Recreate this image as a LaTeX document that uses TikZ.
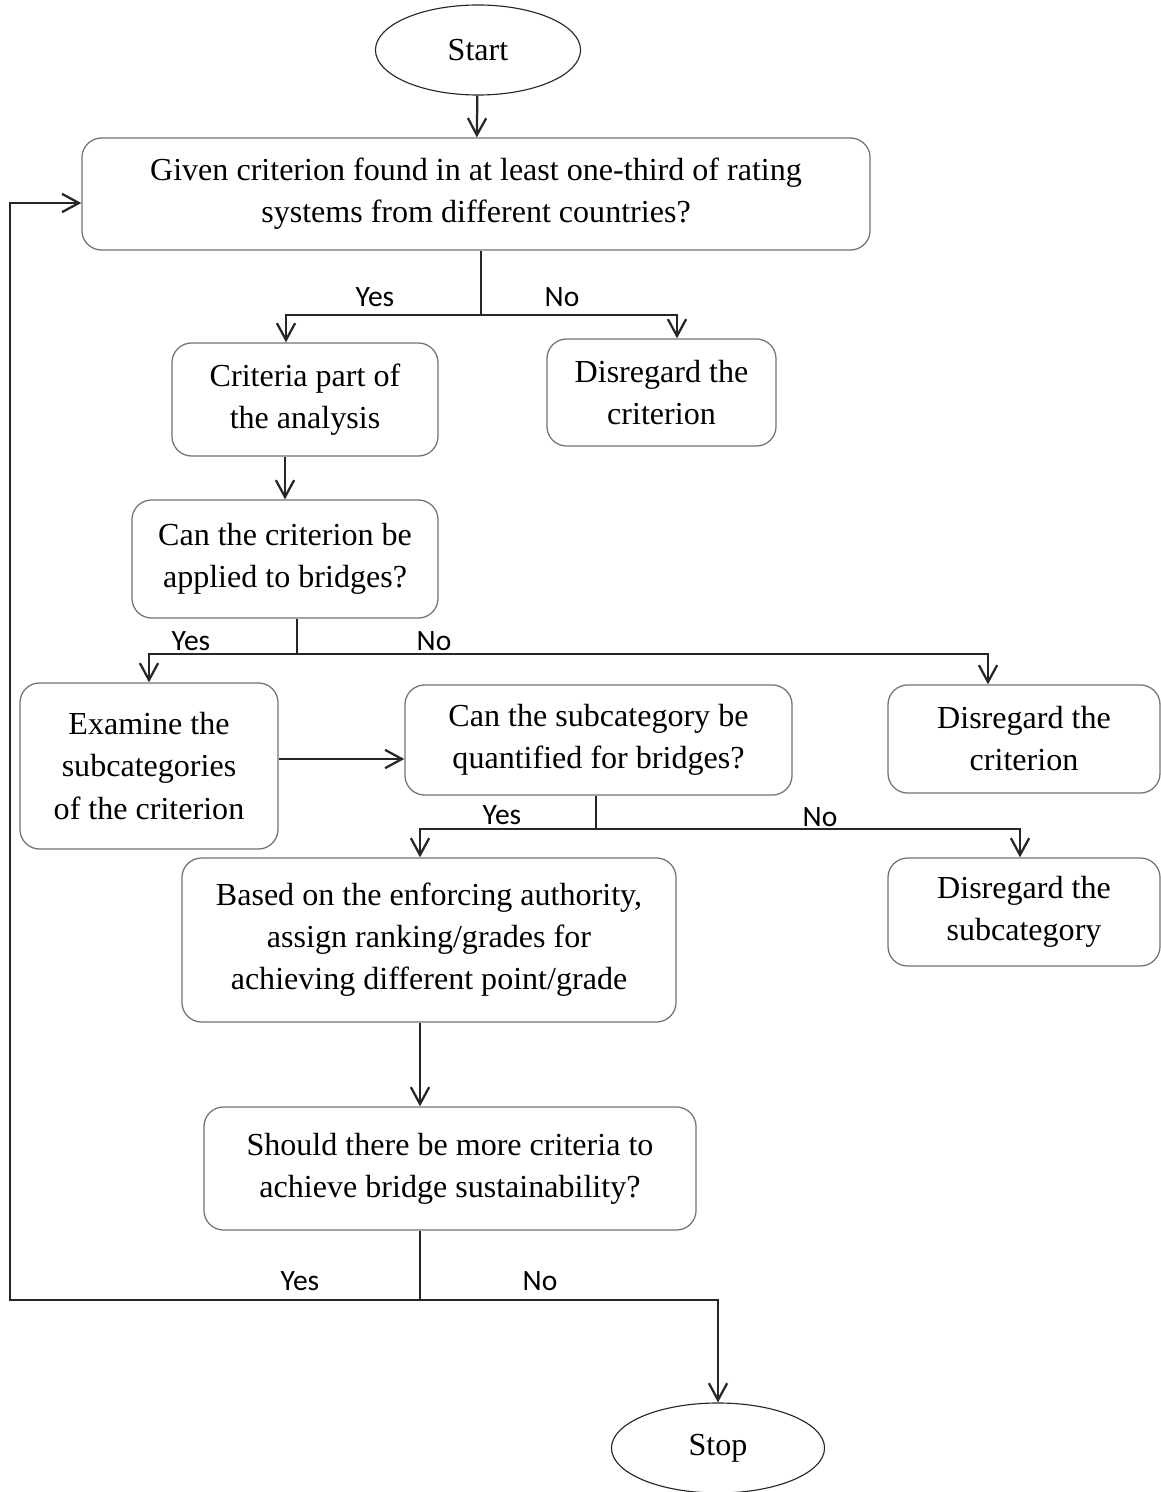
\documentclass[tikz,border=0pt]{standalone}
\usepackage{fontspec}
\setmainfont{Liberation Serif}
\newfontfamily\yesnofont{Carlito}
\usetikzlibrary{calc,arrows.meta,shapes.geometric}

\begin{document}
\begin{tikzpicture}[x=0.025cm,y=-0.025cm,
  box/.style={draw=black!55,line width=0.9pt,rounded corners=14pt,align=center,inner sep=0pt,font=\fontsize{22.8}{29.9}\selectfont},
  term/.style={draw=black!85,line width=0.8pt,ellipse,inner sep=0pt,font=\fontsize{22.8}{26}\selectfont},
  conn/.style={draw=black!85,line width=1.6pt},
  lbl/.style={font=\yesnofont\fontsize{21}{24}\selectfont},
  >={Straight Barb[length=12pt,width=13pt]}]
\useasboundingbox (0,0) rectangle (1161,1492);

\node [term,minimum width=5.125cm,minimum height=2.25cm] at (478,50) (start) {Start};

\node [box,minimum width=19.7cm,minimum height=2.8cm] at (476,194) (b1) {Given criterion found in at least one-third of rating\\systems from different countries?};

\node [box,minimum width=6.65cm,minimum height=2.825cm] at (305,399.5) (b2) {Criteria part of\\the analysis};

\node [box,minimum width=5.725cm,minimum height=2.675cm] at (661.5,392.5) (b3) {Disregard the\\criterion};

\node [box,minimum width=7.65cm,minimum height=2.95cm] at (285,559) (b4) {Can the criterion be\\applied to bridges?};

\node [box,minimum width=6.45cm,minimum height=4.15cm] at (149,766) (b5) {Examine the\\subcategories\\of the criterion};

\node [box,minimum width=9.675cm,minimum height=2.75cm] at (598.5,740) (b6) {Can the subcategory be\\quantified for bridges?};

\node [box,minimum width=6.8cm,minimum height=2.7cm] at (1024,739) (b7) {Disregard the\\criterion};

\node [box,minimum width=12.35cm,minimum height=4.1cm] at (429,940) (b8) {Based on the enforcing authority,\\assign ranking/grades for\\achieving different point/grade};

\node [box,minimum width=6.8cm,minimum height=2.7cm] at (1024,912) (b9) {Disregard the\\subcategory};

\node [box,minimum width=12.3cm,minimum height=3.075cm] at (450,1168.5) (b10) {Should there be more criteria to\\achieve bridge sustainability?};

\node [term,minimum width=5.325cm,minimum height=2.25cm] at (718,1448) (stop) {Stop};

\coordinate (s1) at (481,315);
\coordinate (s2) at (297,654);
\coordinate (s3) at (596,829);
\coordinate (s4) at (420,1300);
\coordinate (lp) at (10,1300);

\draw [conn,->] (start) -- (b1);

\draw [conn] (b1.south -| s1) -- (s1);
\draw [conn,->] (s1) -| ($(b2.north)+(-19,0)$);
\draw [conn,->] (s1) -| ($(b3.north)+(15.5,0)$);

\draw [conn,->] (b2.south -| b4.north) -- (b4.north);

\draw [conn] (b4.south -| s2) -- (s2);
\draw [conn,->] (s2) -| (b5.north);
\draw [conn,->] (s2) -| ($(b7.north)+(-36,0)$);

\draw [conn,->] ($(b5.east)+(0,-7)$) -- ($(b6.west)+(0,19)$);

\draw [conn] (b6.south -| s3) -- (s3);
\draw [conn,->] (s3) -| ($(b8.north)+(-9,0)$);
\draw [conn,->] (s3) -| ($(b9.north)+(-4,0)$);

\draw [conn,->] ($(b8.south)+(-9,0)$) -- ($(b10.north)+(-30,0)$);

\draw [conn] (b10.south -| s4) -- (s4);
\draw [conn,->] (s4) -- (lp) |- ($(b1.west)+(0,9)$);
\draw [conn,->] (s4) -| (stop.north);

\node [lbl] at (375,297) (y1) {Yes};
\node [lbl] at (562,297) (n1) {No};
\node [lbl] at (191,641) (y2) {Yes};
\node [lbl] at (434,641) (n2) {No};
\node [lbl] at (502,815) (y3) {Yes};
\node [lbl] at (820,817) (n3) {No};
\node [lbl] at (300,1281) (y4) {Yes};
\node [lbl] at (540,1281) (n4) {No};
\end{tikzpicture}
\end{document}
